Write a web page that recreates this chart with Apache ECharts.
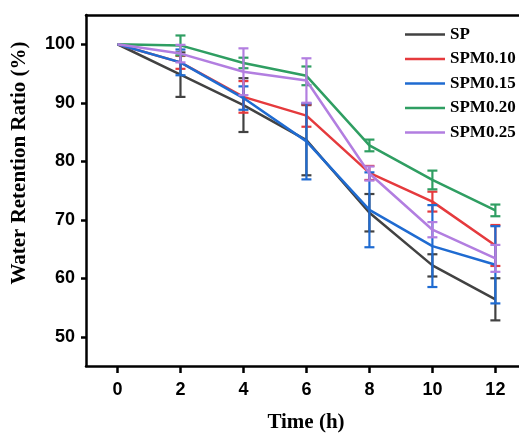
<!DOCTYPE html>
<html>
<head>
<meta charset="utf-8">
<script src="https://cdn.jsdelivr.net/npm/echarts@6/dist/echarts.min.js"></script>
<style>
html,body{margin:0;padding:0;background:#fff;}
#chart{width:519px;height:438px;}
</style>
</head>
<body>
<div id="chart"></div>
<script>
const times = [0, 2, 4, 6, 8, 10, 12];
const xTicks = [0, 2, 4, 6, 8, 10, 12];
const yTicks = [50, 60, 70, 80, 90, 100];
const seriesNames = ['SP', 'SPM0.10', 'SPM0.15', 'SPM0.20', 'SPM0.25'];
const colors = ['#424242', '#e53a3d', '#1f6bd1', '#2f9e62', '#b27ee0'];

const SP = [100, 94.8, 89.6, 83.6, 71.2, 62.2, 56.4];
const SP_err = [0, 3.8, 4.6, 6.0, 3.2, 1.9, 3.6];
const SPM010 = [100, 96.9, 91.0, 87.8, 78.0, 73.1, 65.6];
const SPM010_err = [0, 1.1, 2.7, 1.9, 1.2, 1.7, 3.5];
const SPM015 = [100, 96.9, 90.8, 83.4, 71.7, 65.5, 62.3];
const SPM015_err = [0, 2.2, 2.0, 6.5, 6.4, 7.0, 6.6];
const SPM020 = [100, 99.8, 96.8, 94.6, 82.7, 76.8, 71.6];
const SPM020_err = [0, 1.7, 0.9, 1.6, 1.0, 1.6, 1.0];
const SPM025 = [100, 98.4, 95.3, 93.8, 77.9, 68.3, 63.4];
const SPM025_err = [0, 1.5, 4.0, 3.8, 1.2, 1.3, 2.3];

const values = [SP, SPM010, SPM015, SPM020, SPM025];
const errors = [SP_err, SPM010_err, SPM015_err, SPM020_err, SPM025_err];

const chart = echarts.init(document.getElementById('chart'), null, {renderer: 'canvas'});

const series = [];
seriesNames.forEach((name, i) => {
  series.push({
    name: name,
    type: 'line',
    data: times.map((t, k) => [t, values[i][k]]),
    symbol: 'none',
    lineStyle: {color: colors[i], width: 2.5},
    itemStyle: {color: colors[i]},
    z: 2 + i
  });
  series.push({
    name: name,
    type: 'custom',
    data: times.map((t, k) => [t, values[i][k] - errors[i][k], values[i][k] + errors[i][k]]).filter((d, k) => errors[i][k] > 0),
    renderItem: function (params, api) {
      const lo = api.coord([api.value(0), api.value(1)]);
      const hi = api.coord([api.value(0), api.value(2)]);
      const hw = 5;
      const st = {stroke: colors[i], lineWidth: 2.2};
      return {
        type: 'group',
        children: [
          {type: 'line', shape: {x1: lo[0], y1: lo[1], x2: hi[0], y2: hi[1]}, style: st},
          {type: 'line', shape: {x1: lo[0] - hw, y1: lo[1], x2: lo[0] + hw, y2: lo[1]}, style: st},
          {type: 'line', shape: {x1: hi[0] - hw, y1: hi[1], x2: hi[0] + hw, y2: hi[1]}, style: st}
        ]
      };
    },
    z: 2 + i
  });
});

const option = {
  backgroundColor: '#ffffff',
  animation: false,
  grid: {left: 86, top: 15, right: 0, bottom: 69},
  legend: {
    data: seriesNames.map((n, i) => ({name: n, icon: 'rect', itemStyle: {color: colors[i]}})),
    orient: 'vertical',
    left: 400,
    top: 21,
    itemWidth: 40,
    itemHeight: 2.5,
    itemGap: 7.5,
    textStyle: {fontFamily: 'Liberation Serif', fontWeight: 'bold', fontSize: 17, color: '#000'}
  },
  xAxis: [{
    type: 'value',
    min: -1,
    max: 12.75,
    name: 'Time (h)',
    nameLocation: 'middle',
    nameGap: 46,
    nameTextStyle: {fontFamily: 'Liberation Serif', fontWeight: 'bold', fontSize: 21, color: '#000', padding: [0, 0, 0, 7]},
    axisLine: {show: true, onZero: false, lineStyle: {color: '#000', width: 2.5}},
    axisTick: {show: true, customValues: xTicks, length: 7, lineStyle: {color: '#000', width: 2.5}},
    axisLabel: {customValues: xTicks, margin: 15, fontFamily: 'Liberation Sans', fontWeight: 'bold', fontSize: 18, color: '#000'},
    splitLine: {show: false}
  }, {
    type: 'value',
    position: 'top',
    min: -1,
    max: 12.75,
    axisLine: {show: true, onZero: false, lineStyle: {color: '#000', width: 2.5}},
    axisTick: {show: false},
    axisLabel: {show: false},
    splitLine: {show: false}
  }],
  yAxis: {
    type: 'value',
    min: 45,
    max: 105,
    axisLine: {show: true, onZero: false, lineStyle: {color: '#000', width: 2.5}},
    axisTick: {show: true, customValues: yTicks, length: 5, lineStyle: {color: '#000', width: 2.5}},
    axisLabel: {customValues: yTicks, margin: 11, fontFamily: 'Liberation Sans', fontWeight: 'bold', fontSize: 18, color: '#000'},
    splitLine: {show: false}
  },
  graphic: [{
    type: 'text',
    x: 20,
    y: 163,
    rotation: Math.PI / 2,
    style: {
      text: 'Water Retention Ratio (%)',
      fontFamily: 'Liberation Serif',
      fontWeight: 'bold',
      fontSize: 21,
      fill: '#000',
      align: 'center',
      verticalAlign: 'middle'
    }
  }],
  series: series
};
chart.setOption(option);
</script>
</body>
</html>
